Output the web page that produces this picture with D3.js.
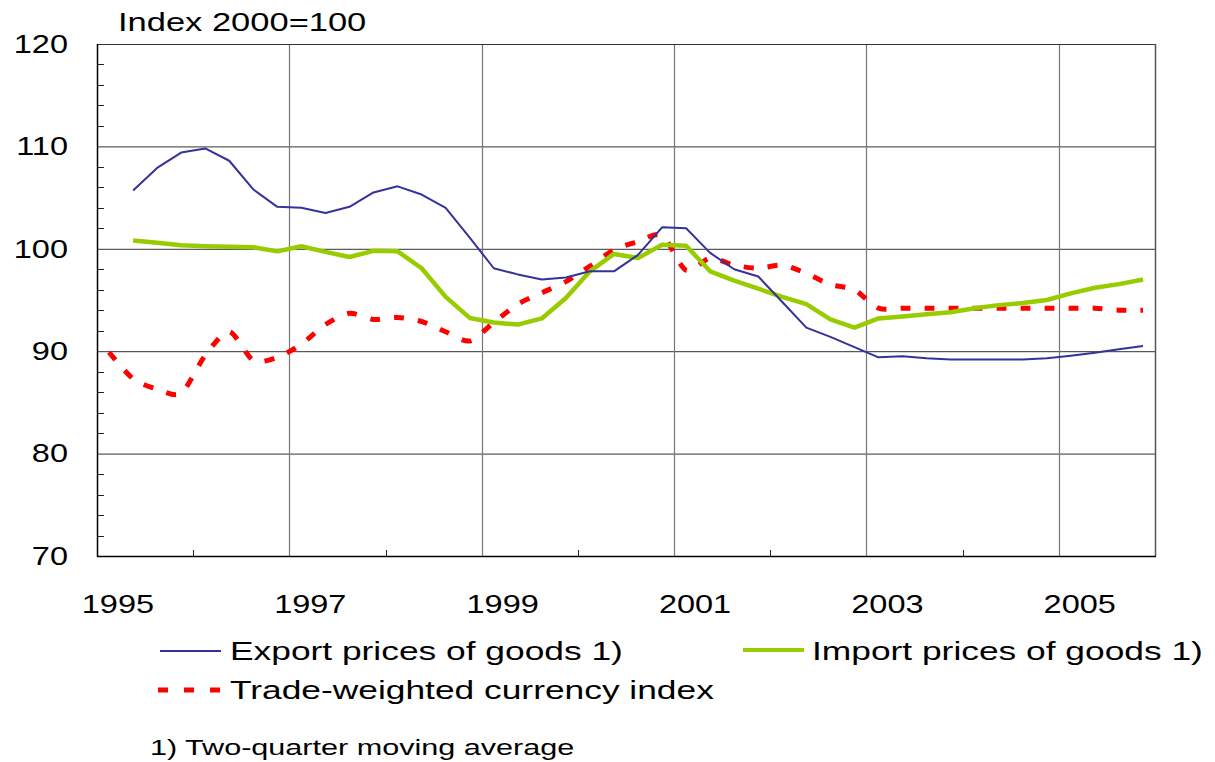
<!DOCTYPE html>
<html>
<head>
<meta charset="utf-8">
<script src="https://cdn.jsdelivr.net/npm/d3@7"></script>
<style>
  html, body { margin: 0; padding: 0; background: #fff; }
  svg { display: block; font-family: "Liberation Sans", Arial, sans-serif; }
</style>
</head>
<body>
<svg id="chart" width="1215" height="762"></svg>
<script>
// ── Data (quarterly, index 2000=100) ─────────────────
const quarters = [
  '1995Q1','1995Q2','1995Q3','1995Q4','1996Q1','1996Q2','1996Q3','1996Q4',
  '1997Q1','1997Q2','1997Q3','1997Q4','1998Q1','1998Q2','1998Q3','1998Q4',
  '1999Q1','1999Q2','1999Q3','1999Q4','2000Q1','2000Q2','2000Q3','2000Q4',
  '2001Q1','2001Q2','2001Q3','2001Q4','2002Q1','2002Q2','2002Q3','2002Q4',
  '2003Q1','2003Q2','2003Q3','2003Q4','2004Q1','2004Q2','2004Q3','2004Q4',
  '2005Q1','2005Q2','2005Q3','2005Q4'
];
const yearLabels = ['1995', '1997', '1999', '2001', '2003', '2005'];
const gridYears  = ['1997', '1999', '2001', '2003', '2005'];
const minorYears = ['1996', '1998', '2000', '2002', '2004'];
const yTicks      = [70, 80, 90, 100, 110, 120];
const yMinorTicks = [72, 74, 76, 78, 82, 84, 86, 88, 92, 94, 96, 98, 102, 104, 106, 108, 112, 114, 116, 118];

const exportPrices = [
  null, 105.7, 107.9, 109.4, 109.8, 108.6, 105.8, 104.1,
  104.0, 103.5, 104.1, 105.5, 106.1, 105.3, 104.0, 101.1,
  98.1, 97.5, 97.0, 97.2, 97.8, 97.8, 99.4, 102.1,
  102.0, 99.6, 98.0, 97.3, 94.8, 92.3, 91.4, 90.4,
  89.4, 89.5, 89.3, 89.2, 89.2, 89.2, 89.2, 89.3,
  89.55, 89.85, 90.2, 90.5
];
const importPrices = [
  null, 100.8, 100.6, 100.35, 100.25, 100.2, 100.15, 99.75,
  100.25, 99.7, 99.2, 99.8, 99.75, 98.1, 95.3, 93.25,
  92.8, 92.6, 93.2, 95.2, 97.8, 99.5, 99.1, 100.4,
  100.3, 97.8, 96.9, 96.1, 95.3, 94.6, 93.1, 92.3,
  93.2, 93.4, 93.6, 93.8, 94.2, 94.5, 94.7, 95.0,
  95.65, 96.2, 96.55, 97.0
];
const currencyIndex = [
  89.9, 87.3, 86.3, 85.9, 89.6, 91.9, 89.1, 89.4,
  90.7, 92.6, 93.7, 93.1, 93.3, 92.9, 91.9, 91.0,
  92.8, 94.6, 95.7, 96.8, 98.3, 99.9, 100.7, 101.3,
  97.9, 99.1, 98.4, 98.1, 98.4, 97.6, 96.5, 96.0,
  94.2, 94.2, 94.2, 94.2, 94.2, 94.2, 94.2, 94.2,
  94.2, 94.2, 94.0, 94.0
];

const seriesNames = [
  'Export prices of goods 1)',
  'Import prices of goods 1)',
  'Trade-weighted currency index'
];
const yTitle   = 'Index 2000=100';
const footnote = '1) Two-quarter moving average';

// ── Layout ───────────────────────────────────────────
const svg = d3.select('#chart');
const plot = { left: 97, right: 1155, top: 44, bottom: 556 };

const blue  = '#333399';
const green = '#99CC00';
const red   = '#FF0000';

const x = d3.scaleBand().domain(quarters).range([plot.left, plot.right]);
const bw = x.bandwidth();
const xc = q => x(q) + bw / 2;
const y = d3.scaleLinear().domain([70, 120]).range([plot.bottom, plot.top]);

// stretched text like the original export
function label(g, px, py, str, size, sx, anchor) {
  g.append('text')
    .attr('transform', `translate(${px},${py}) scale(${sx},1)`)
    .attr('text-anchor', anchor || 'start')
    .attr('dy', '0.35em')
    .attr('font-size', size)
    .attr('fill', '#000')
    .text(str);
}

// ── Grid ─────────────────────────────────────────────
const grid = svg.append('g');
grid.selectAll('.hgrid')
  .data(yTicks.filter(v => v > 70 && v < 120))
  .enter().append('line')
  .attr('x1', plot.left).attr('x2', plot.right)
  .attr('y1', d => y(d) + 0.5).attr('y2', d => y(d) + 0.5)
  .attr('stroke', '#333').attr('stroke-width', 1);

grid.selectAll('.vgrid')
  .data(gridYears)
  .enter().append('line')
  .attr('x1', d => Math.round(x(d + 'Q1')) + 0.5).attr('x2', d => Math.round(x(d + 'Q1')) + 0.5)
  .attr('y1', plot.top).attr('y2', plot.bottom)
  .attr('stroke', '#777').attr('stroke-width', 1.2);

// frame: top/right lighter, left/bottom axis black
svg.append('line').attr('x1', plot.left).attr('x2', plot.right)
  .attr('y1', plot.top + 0.5).attr('y2', plot.top + 0.5).attr('stroke', '#333');
svg.append('line').attr('x1', plot.right + 0.5).attr('x2', plot.right + 0.5)
  .attr('y1', plot.top).attr('y2', plot.bottom).attr('stroke', '#555').attr('stroke-width', 1.5);

// minor ticks
svg.selectAll('.ytick')
  .data(yMinorTicks)
  .enter().append('line')
  .attr('x1', plot.left).attr('x2', plot.left + 7)
  .attr('y1', d => Math.round(y(d)) + 0.5).attr('y2', d => Math.round(y(d)) + 0.5)
  .attr('stroke', '#222').attr('stroke-width', 1);

svg.selectAll('.xtick')
  .data(minorYears)
  .enter().append('line')
  .attr('x1', d => Math.round(x(d + 'Q1')) + 0.5).attr('x2', d => Math.round(x(d + 'Q1')) + 0.5)
  .attr('y1', plot.bottom).attr('y2', plot.bottom - 6)
  .attr('stroke', '#222').attr('stroke-width', 1);

svg.append('line').attr('x1', plot.left + 0.5).attr('x2', plot.left + 0.5)
  .attr('y1', plot.top).attr('y2', plot.bottom + 1).attr('stroke', '#000').attr('stroke-width', 1.5);
svg.append('line').attr('x1', plot.left).attr('x2', plot.right + 1)
  .attr('y1', plot.bottom + 0.5).attr('y2', plot.bottom + 0.5).attr('stroke', '#000').attr('stroke-width', 1.5);

// ── Axis labels ──────────────────────────────────────
const labels = svg.append('g');
yTicks.forEach(v => label(labels, 68, y(v), String(v), 25, 1.3, 'end'));
yearLabels.forEach(yr => label(labels, x(yr + 'Q1') + bw * 0.87, 604, yr, 25, 1.3, 'middle'));
label(labels, 118, 22, yTitle, 25, 1.38, 'start');

// ── Lines ────────────────────────────────────────────
function lineFor(values, curve) {
  return d3.line()
    .defined(d => d.v != null)
    .x(d => xc(d.q))
    .y(d => y(d.v))
    .curve(curve)(quarters.map((q, i) => ({ q, v: values[i] })));
}

svg.append('path')
  .attr('d', lineFor(currencyIndex, d3.curveCardinal.tension(0.2)))
  .attr('fill', 'none').attr('stroke', red)
  .attr('stroke-width', 5).attr('stroke-dasharray', '10,14');

svg.append('path')
  .attr('d', lineFor(importPrices, d3.curveLinear))
  .attr('fill', 'none').attr('stroke', green)
  .attr('stroke-width', 4.5).attr('stroke-linejoin', 'round');

svg.append('path')
  .attr('d', lineFor(exportPrices, d3.curveLinear))
  .attr('fill', 'none').attr('stroke', blue)
  .attr('stroke-width', 2).attr('stroke-linejoin', 'round');

// ── Legend ───────────────────────────────────────────
const lg = svg.append('g');
lg.append('line').attr('x1', 160).attr('x2', 221).attr('y1', 651).attr('y2', 651)
  .attr('stroke', blue).attr('stroke-width', 2);
label(lg, 230, 651, seriesNames[0], 26, 1.36, 'start');

lg.append('line').attr('x1', 743).attr('x2', 804).attr('y1', 650).attr('y2', 650)
  .attr('stroke', green).attr('stroke-width', 4);
label(lg, 812, 651, seriesNames[1], 26, 1.36, 'start');

lg.append('line').attr('x1', 158).attr('x2', 221).attr('y1', 690).attr('y2', 690)
  .attr('stroke', red).attr('stroke-width', 5).attr('stroke-dasharray', '10,16');
label(lg, 230, 690, seriesNames[2], 26, 1.36, 'start');

label(svg, 150, 747, footnote, 22, 1.39, 'start');
</script>
</body>
</html>
